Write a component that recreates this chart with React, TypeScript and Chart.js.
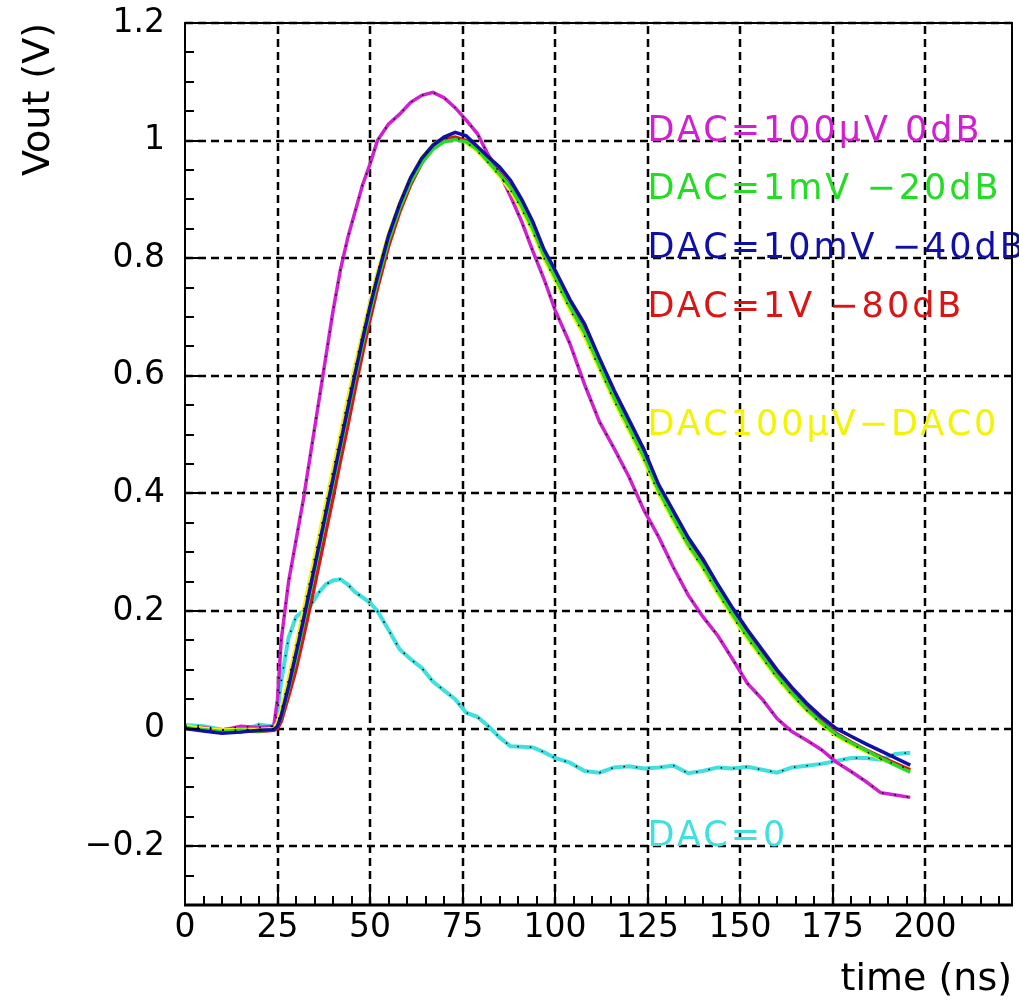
import React, { useEffect, useRef } from 'react';
import { Chart, registerables } from 'chart.js';

Chart.register(...registerables);

// ---- data ----
const timeNs = [0, 5, 10, 15, 20, 24, 25, 26, 28, 30, 32, 34, 36, 38, 40, 42, 44, 46, 48, 50, 52, 55, 58, 61, 64, 67, 70, 73, 76, 79, 82, 85, 88, 91, 94, 97, 100, 104, 108, 112, 116, 120, 124, 128, 132, 136, 140, 144, 148, 152, 156, 160, 164, 168, 172, 176, 180, 184, 188, 192, 196];

const vMagenta = [0.003, 0.002, -0.003, 0.004, 0.002, 0.004,
  0.05, 0.15, 0.25, 0.32, 0.39, 0.47, 0.55, 0.63, 0.71, 0.78, 0.835, 0.88, 0.925, 0.96, 1.0,
  1.028, 1.045, 1.065, 1.077, 1.082, 1.073, 1.056, 1.035, 1.012, 0.975, 0.945, 0.905, 0.862, 0.812, 0.765, 0.712,
  0.655, 0.585, 0.522, 0.476, 0.428, 0.372, 0.326, 0.274, 0.227, 0.19, 0.158, 0.118, 0.077, 0.05, 0.017, -0.005, -0.02, -0.036, -0.057, -0.073, -0.09, -0.109, -0.113, -0.117];

const vGreen = [0.002, -0.002, -0.005, -0.003, -0.004, -0.002,
  0.004, 0.02, 0.068, 0.12, 0.178, 0.238, 0.298, 0.358, 0.418, 0.478, 0.538, 0.598, 0.655, 0.71, 0.76,
  0.83, 0.885, 0.93, 0.962, 0.985, 0.998, 1.002, 0.998, 0.985, 0.964, 0.943, 0.92, 0.888, 0.85, 0.805, 0.768,
  0.718, 0.673, 0.617, 0.562, 0.512, 0.462, 0.405, 0.358, 0.313, 0.276, 0.234, 0.194, 0.157, 0.123, 0.089, 0.06, 0.033, 0.01, -0.01, -0.024, -0.037, -0.05, -0.062, -0.074];

const vBlue = [0.0, -0.004, -0.008, -0.006, -0.003, -0.002,
  0.004, 0.022, 0.072, 0.128, 0.185, 0.245, 0.305, 0.365, 0.425, 0.485, 0.545, 0.605, 0.663, 0.718, 0.768,
  0.838, 0.892, 0.937, 0.97, 0.992, 1.006, 1.014, 1.008, 0.99, 0.972, 0.955, 0.932, 0.9, 0.862, 0.815, 0.78,
  0.73, 0.688, 0.63, 0.575, 0.525, 0.475, 0.415, 0.37, 0.325, 0.288, 0.245, 0.205, 0.168, 0.134, 0.1, 0.07, 0.043, 0.02, 0.0, -0.013, -0.026, -0.038, -0.05, -0.062];

const vRed = [0.001, -0.003, -0.006, -0.004, -0.005, -0.003,
  0.0, 0.012, 0.055, 0.1, 0.155, 0.212, 0.272, 0.332, 0.392, 0.455, 0.515, 0.578, 0.638, 0.695, 0.748,
  0.82, 0.878, 0.925, 0.962, 0.988, 1.002, 1.006, 1.0, 0.987, 0.968, 0.945, 0.922, 0.89, 0.853, 0.808, 0.77,
  0.72, 0.676, 0.62, 0.565, 0.515, 0.465, 0.408, 0.361, 0.316, 0.279, 0.237, 0.197, 0.16, 0.126, 0.092, 0.063, 0.036, 0.013, -0.008, -0.023, -0.036, -0.048, -0.059, -0.07];

const vYellow = [0.004, 0.0, -0.003, -0.002, -0.002, 0.0,
  0.01, 0.03, 0.085, 0.14, 0.2, 0.26, 0.32, 0.38, 0.44, 0.5, 0.56, 0.618, 0.672, 0.725, 0.775,
  0.84, 0.893, 0.937, 0.97, 0.993, 1.004, 1.005, 0.997, 0.982, 0.962, 0.94, 0.915, 0.883, 0.845, 0.8, 0.763,
  0.713, 0.667, 0.612, 0.557, 0.507, 0.457, 0.4, 0.354, 0.31, 0.272, 0.23, 0.19, 0.153, 0.12, 0.086, 0.057, 0.031, 0.008, -0.012, -0.026, -0.039, -0.051, -0.061, -0.07];

const vCyan = [0.006, 0.004, -0.002, -0.006, 0.007, 0.003,
  0.03, 0.08, 0.155, 0.19, 0.2, 0.21, 0.23, 0.245, 0.252, 0.254, 0.245, 0.232, 0.223, 0.214, 0.2,
  0.168, 0.135, 0.118, 0.103, 0.08, 0.065, 0.05, 0.027, 0.02, 0.004, -0.015, -0.03, -0.031, -0.032, -0.04, -0.05,
  -0.058, -0.072, -0.075, -0.066, -0.064, -0.068, -0.066, -0.063, -0.076, -0.072, -0.066, -0.068, -0.065, -0.07, -0.075, -0.066, -0.063, -0.06, -0.055, -0.05, -0.05, -0.053, -0.043, -0.041];

const seriesNames = ['DAC=100\u00B5V 0dB', 'DAC=1mV \u221220dB', 'DAC=10mV \u221240dB', 'DAC=1V \u221280dB', 'DAC100\u00B5V\u2212DAC0', 'DAC=0'];

const xTickValues = [0, 25, 50, 75, 100, 125, 150, 175, 200];
const xTickLabels = ['0', '25', '50', '75', '100', '125', '150', '175', '200'];
const yTickValues = [-0.2, 0, 0.2, 0.4, 0.6, 0.8, 1, 1.2];
const yTickLabels = ['\u22120.2', '0', '0.2', '0.4', '0.6', '0.8', '1', '1.2'];

// ---- styling / annotation placement ----
const colMagenta = '#d020d0';
const colGreen = '#22dd22';
const colBlue = '#1010a8';
const colRed = '#dd1414';
const colYellow = '#f4f400';
const colCyan = '#40e0e0';

const labelStyles = [
  { color: colMagenta, at: [125, 1.0] },
  { color: colGreen, at: [125, 0.9] },
  { color: colBlue, at: [125, 0.8] },
  { color: colRed, at: [125, 0.7] },
  { color: colYellow, at: [125, 0.5] },
  { color: colCyan, at: [125, -0.2] },
];

const FONT = '"DejaVu Sans", sans-serif';

const rootFramePlugin = {
  id: 'rootFrame',
  beforeDatasetsDraw(chart: any) {
    const { ctx, chartArea: a, scales } = chart;
    const x = scales.x, y = scales.y;
    ctx.save();
    ctx.strokeStyle = '#000';
    ctx.lineWidth = 2.5;
    ctx.setLineDash([8, 5]);
    for (const v of xTickValues) {
      if (v === 0) continue;
      const px = Math.round(x.getPixelForValue(v));
      ctx.beginPath();
      ctx.moveTo(px, a.bottom);
      ctx.lineTo(px, a.top);
      ctx.stroke();
    }
    for (const v of yTickValues) {
      const py = Math.round(y.getPixelForValue(v));
      ctx.beginPath();
      ctx.moveTo(a.left, py);
      ctx.lineTo(a.right, py);
      ctx.stroke();
    }
    ctx.restore();
  },
  afterDatasetsDraw(chart: any) {
    const { ctx, chartArea: a, scales } = chart;
    const x = scales.x, y = scales.y;
    ctx.save();
    // text labels
    ctx.font = `35px ${FONT}`;
    (ctx as any).letterSpacing = '3px';
    ctx.textAlign = 'left';
    ctx.textBaseline = 'alphabetic';
    seriesNames.forEach((name, i) => {
      const s = labelStyles[i];
      ctx.fillStyle = s.color;
      ctx.fillText(name, x.getPixelForValue(s.at[0]), y.getPixelForValue(s.at[1]));
    });
    (ctx as any).letterSpacing = '0px';
    // frame
    ctx.setLineDash([]);
    ctx.strokeStyle = '#000';
    ctx.lineWidth = 2;
    ctx.strokeRect(a.left, a.top, a.right - a.left, a.bottom - a.top);
    ctx.lineWidth = 3;
    ctx.beginPath();
    ctx.moveTo(a.left - 1, a.bottom);
    ctx.lineTo(a.right + 1, a.bottom);
    ctx.stroke();
    // inner ticks, x axis
    ctx.lineWidth = 2;
    for (let k = 0; k * 5 <= x.max; k++) {
      const px = Math.round(x.getPixelForValue(k * 5));
      const len = k % 5 === 0 ? 18 : 9;
      ctx.beginPath();
      ctx.moveTo(px, a.bottom);
      ctx.lineTo(px, a.bottom - len);
      ctx.stroke();
    }
    // inner ticks, y axis
    for (let k = -6; k <= 24; k++) {
      const py = Math.round(y.getPixelForValue(k * 0.05));
      const len = (k + 100) % 4 === 0 ? 15 : 9;
      ctx.beginPath();
      ctx.moveTo(a.left, py);
      ctx.lineTo(a.left + len, py);
      ctx.stroke();
    }
    ctx.restore();
  },
};

function line(data: number[], color: string, width: number, order: number) {
  return {
    data: timeNs.map((t, i) => ({ x: t, y: data[i] })),
    borderColor: color,
    backgroundColor: color,
    borderWidth: width,
    pointRadius: 0,
    tension: 0,
    fill: false,
    order,
  };
}

function dotted(data: number[], order: number) {
  return {
    data: timeNs.map((t, i) => ({ x: t, y: data[i] })),
    borderColor: '#000',
    borderWidth: 1.5,
    borderDash: [1.5, 11],
    pointRadius: 0,
    tension: 0,
    fill: false,
    order,
  };
}

export default function App() {
  const ref = useRef<HTMLCanvasElement>(null);
  useEffect(() => {
    document.body.style.margin = '0';
    const canvas = ref.current!;
    const chart = new Chart(canvas, {
      type: 'line',
      data: {
        datasets: [
          dotted(vCyan, 0),
          dotted(vMagenta, 0),
          dotted(vYellow, 0),
          line(vBlue, colBlue, 3.5, 1),
          line(vGreen, colGreen, 3.5, 2),
          line(vRed, colRed, 3.5, 3),
          line(vYellow, colYellow, 4, 4),
          line(vMagenta, colMagenta, 3.5, 5),
          line(vCyan, colCyan, 4, 6),
        ] as any,
      },
      options: {
        responsive: false,
        animation: false,
        devicePixelRatio: 1,
        layout: { padding: { top: 23, right: 7, left: 0, bottom: 0 } },
        plugins: { legend: { display: false }, tooltip: { enabled: false } },
        scales: {
          x: {
            type: 'linear',
            min: 0,
            max: 223.5,
            grid: { display: false },
            border: { display: false },
            afterBuildTicks: (s: any) => { s.ticks = xTickValues.map((v) => ({ value: v })); },
            afterFit: (s: any) => { s.height = 95; s.paddingLeft = 0; s.paddingRight = 0; },
            ticks: {
              autoSkip: false,
              maxRotation: 0,
              padding: -4,
              color: '#000',
              font: { family: FONT, size: 33 },
              callback: (_v: any, i: number) => xTickLabels[i],
            },
            title: {
              display: true,
              text: 'time (ns)',
              align: 'end',
              color: '#000',
              font: { family: FONT, size: 38, lineHeight: 1 },
              padding: { top: 0, bottom: 1 },
            },
          },
          y: {
            type: 'linear',
            min: -0.3,
            max: 1.2,
            grid: { display: false },
            border: { display: false },
            afterBuildTicks: (s: any) => { s.ticks = yTickValues.map((v) => ({ value: v })); },
            afterFit: (s: any) => { s.width = 185; s.paddingTop = 0; s.paddingBottom = 0; },
            ticks: {
              autoSkip: false,
              padding: 12,
              color: '#000',
              font: { family: FONT, size: 33 },
              callback: (_v: any, i: number) => yTickLabels[i],
            },
            title: {
              display: true,
              text: 'Vout (V)',
              align: 'end',
              color: '#000',
              font: { family: FONT, size: 38, lineHeight: 1 },
              padding: { top: 20, bottom: 0 },
            },
          },
        },
      } as any,
      plugins: [rootFramePlugin],
    });
    return () => chart.destroy();
  }, []);
  return (
    <div style={{ width: 1019, height: 1000 }}>
      <canvas ref={ref} width={1019} height={1000} style={{ display: 'block' }} />
    </div>
  );
}
